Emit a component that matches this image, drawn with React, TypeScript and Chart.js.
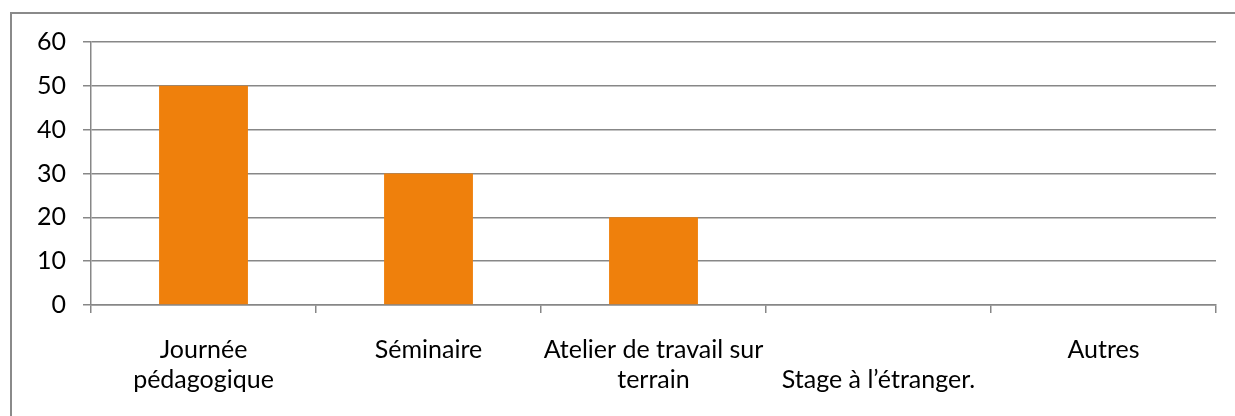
import React, { useEffect, useRef } from "react";
import { Chart, registerables } from "chart.js";

Chart.register(...registerables);

const categories: (string | string[])[] = [
  ["Journée", "pédagogique"],
  "Séminaire",
  ["Atelier de travail sur", "terrain"],
  ["", "Stage à l’étranger."],
  "Autres",
];
const values: number[] = [50, 30, 20, 0, 0];
const yTicks = { min: 0, max: 60, step: 10 };

const FONT = "Lato, 'Open Sans', sans-serif";
const GRID = "#878787";

export default function App() {
  const ref = useRef<HTMLCanvasElement | null>(null);

  useEffect(() => {
    if (!ref.current) return;
    const chart = new Chart(ref.current, {
      type: "bar",
      data: {
        labels: categories,
        datasets: [
          {
            data: values,
            backgroundColor: "#EF800C",
            borderWidth: 0,
            barPercentage: 0.395,
            categoryPercentage: 1,
          },
        ],
      },
      options: {
        animation: false,
        responsive: false,
        maintainAspectRatio: false,
        layout: { padding: { left: 0, top: 42, right: 19, bottom: 0 } },
        plugins: { legend: { display: false }, tooltip: { enabled: false } },
        scales: {
          x: {
            afterFit: (s: any) => {
              s.height = 111;
            },
            grid: {
              offset: true,
              drawOnChartArea: false,
              drawTicks: true,
              tickLength: 8,
              color: GRID,
              lineWidth: 1.5,
            },
            border: { color: GRID, width: 1.5 },
            ticks: {
              autoSkip: false,
              maxRotation: 0,
              minRotation: 0,
              padding: 22,
              color: "#000",
              font: { family: FONT, size: 25, lineHeight: 1.2 },
            },
          },
          y: {
            min: yTicks.min,
            max: yTicks.max,
            afterFit: (s: any) => {
              s.width = 91;
            },
            grid: {
              color: GRID,
              lineWidth: 1.5,
              drawTicks: true,
              tickLength: 8,
            },
            border: { color: GRID, width: 1.5 },
            ticks: {
              stepSize: yTicks.step,
              padding: 17,
              color: "#000",
              font: { family: FONT, size: 25 },
            },
          },
        },
      },
    });
    return () => chart.destroy();
  }, []);

  return (
    <div
      style={{
        position: "fixed",
        left: 0,
        top: 0,
        width: 1235,
        height: 416,
        overflow: "hidden",
        background: "#fff",
      }}
    >
      <div
        style={{
          position: "absolute",
          left: 10,
          top: 12,
          width: 1400,
          height: 600,
          borderLeft: "2px solid #8a8a8a",
          borderTop: "2px solid #8a8a8a",
        }}
      />
      <canvas
        ref={ref}
        width={1235}
        height={416}
        style={{ position: "absolute", left: 0, top: 0, width: 1235, height: 416 }}
      />
    </div>
  );
}
